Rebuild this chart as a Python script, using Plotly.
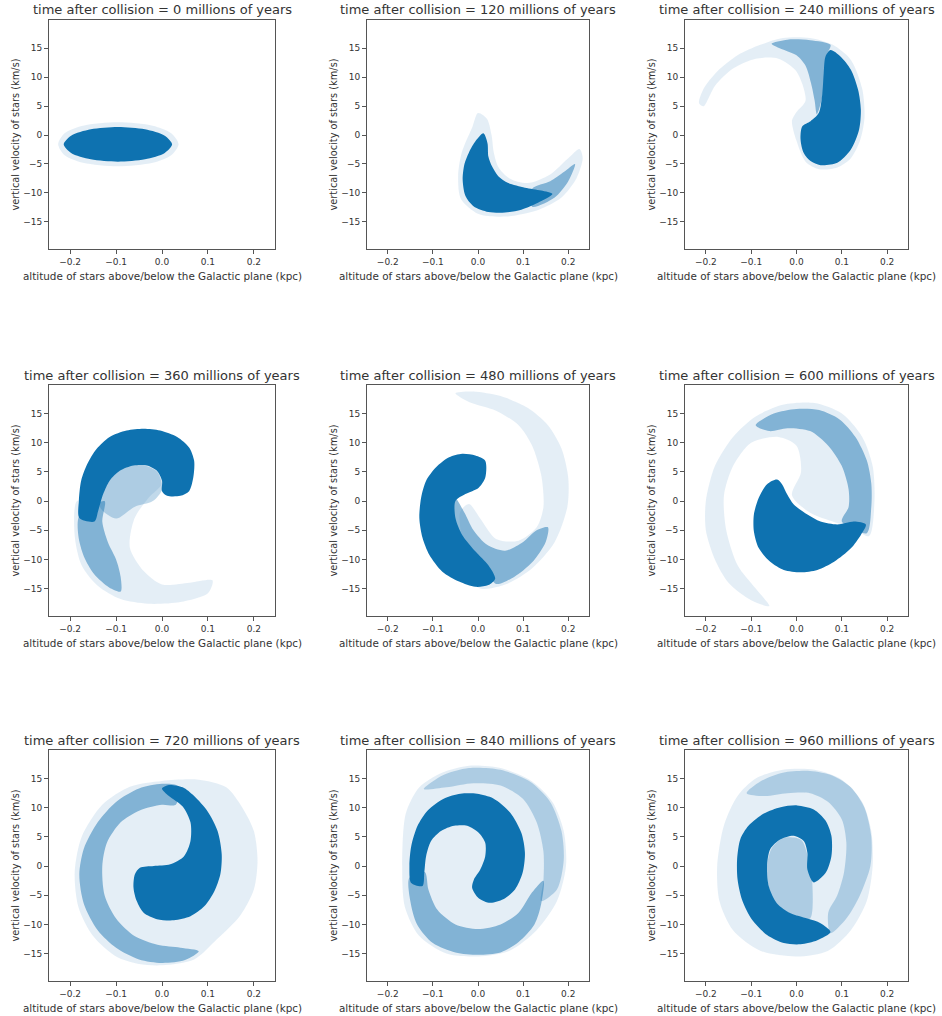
import plotly.graph_objects as go

# ---------------- data ----------------
times = [0, 120, 240, 360, 480, 600, 720, 840, 960]
x_ticks = [-0.2, -0.1, 0.0, 0.1, 0.2]
x_tick_labels = ["−0.2", "−0.1", "0.0", "0.1", "0.2"]
y_ticks = [-15, -10, -5, 0, 5, 10, 15]
y_tick_labels = ["−15", "−10", "−5", "0", "5", "10", "15"]
x_range = [-0.246, 0.246]
y_range = [-19.7, 19.9]

# outlines (altitude kpc, velocity km/s) of the star clouds, by density level
faint_000 = [(0.036,-1.6),(0.02,0.3),(-0.02,1.6),(-0.096,2.2),(-0.172,1.6),(-0.212,0.3),(-0.226,-1.6),
             (-0.212,-3.5),(-0.172,-4.8),(-0.096,-5.4),(-0.02,-4.8),(0.02,-3.5)]
dense_000 = [(0.022,-1.6),(0.006,-0.1),(-0.037,1.0),(-0.096,1.4),(-0.155,1.0),(-0.198,-0.1),(-0.214,-1.6),
             (-0.198,-3.1),(-0.155,-4.2),(-0.096,-4.6),(-0.037,-4.2),(0.006,-3.1)]

faint_120 = [(0.0,3.8),(0.02,2.8),(0.03,0.0),(0.035,-3.0),(0.045,-5.5),(0.07,-7.5),(0.11,-8.3),(0.16,-6.8),
             (0.2,-4.0),(0.225,-2.4),(0.232,-4.0),(0.218,-7.5),(0.185,-10.8),(0.135,-12.9),(0.06,-14.1),
             (0.0,-13.6),(-0.038,-11.0),(-0.044,-7.0),(-0.036,-3.0),(-0.012,1.5)]
medium_120 = [(0.12,-12.4),(0.17,-10.8),(0.2,-8.0),(0.215,-5.0),(0.19,-6.4),(0.16,-8.0),(0.12,-9.3)]
dense_120 = [(0.012,0.3),(-0.005,-1.0),(-0.02,-3.0),(-0.03,-5.0),(-0.034,-7.7),(-0.028,-10.5),(-0.01,-12.3),
             (0.023,-13.3),(0.06,-13.4),(0.096,-12.9),(0.133,-11.7),(0.165,-10.2),(0.14,-9.6),(0.104,-9.1),
             (0.067,-8.3),(0.045,-7.1),(0.031,-5.4),(0.023,-3.7),(0.021,-1.4)]

faint_240 = [(-0.215,5.5),(-0.205,8.0),(-0.175,11.0),(-0.13,13.8),(-0.08,15.6),(-0.03,16.8),(0.03,16.8),
             (0.08,15.6),(0.12,13.0),(0.145,8.0),(0.15,3.0),(0.14,-1.0),(0.12,-4.0),(0.09,-5.6),(0.05,-5.9),
             (0.02,-4.6),(0.0,-1.0),(-0.01,2.5),(0.0,4.0),(0.02,6.0),(0.0,11.0),(-0.04,13.2),(-0.09,13.2),
             (-0.14,11.5),(-0.18,8.5),(-0.205,5.0)]
medium_240 = [(0.075,15.6),(0.03,16.4),(-0.02,16.5),(-0.055,15.8),(-0.03,14.8),(0.0,13.8),(0.02,12.0),
              (0.032,9.0),(0.04,6.0),(0.045,3.6),(0.058,7.0),(0.062,11.0),(0.068,14.0)]
dense_240 = [(0.053,-5.2),(0.09,-4.8),(0.12,-2.5),(0.138,0.9),(0.142,4.4),(0.136,7.8),(0.12,11.3),
             (0.097,13.6),(0.075,14.7),(0.064,13.6),(0.06,10.7),(0.057,7.2),(0.049,3.8),(0.031,2.4),
             (0.0125,1.5),(0.009,-0.8),(0.016,-3.1),(0.031,-4.5)]

faint_360 = [(-0.185,0.0),(-0.19,-6.0),(-0.175,-11.0),(-0.14,-14.5),(-0.09,-16.8),(-0.03,-17.6),(0.04,-17.3),
             (0.1,-15.8),(0.11,-13.6),(0.06,-14.0),(0.0,-14.3),(-0.04,-12.0),(-0.07,-8.0),(-0.06,-3.0),
             (-0.03,0.5),(0.0,3.0),(-0.01,5.5),(-0.04,6.4),(-0.075,6.4),(-0.105,5.2),(-0.128,3.0),(-0.15,0.0)]
light_360 = [(-0.135,-1.0),(-0.12,3.0),(-0.09,5.5),(-0.05,6.3),(-0.01,5.0),(0.0,2.0),(-0.02,0.0),
             (-0.06,-1.0),(-0.1,-3.0)]
medium_360 = [(-0.18,-2.5),(-0.182,-6.0),(-0.17,-9.5),(-0.148,-12.5),(-0.115,-14.8),(-0.09,-15.5),
              (-0.09,-13.0),(-0.1,-10.0),(-0.118,-7.0),(-0.13,-3.5),(-0.125,0.0)]
dense_360 = [(-0.18,-2.9),(-0.181,0.0),(-0.176,3.5),(-0.163,6.3),(-0.143,8.9),(-0.114,11.0),(-0.077,12.1),
             (-0.04,12.4),(-0.004,12.1),(0.033,11.0),(0.059,9.2),(0.07,6.9),(0.068,4.0),(0.059,1.7),
             (0.04,0.9),(0.011,0.9),(0.0,1.7),(0.0,3.5),(-0.011,5.2),(-0.033,6.1),(-0.062,6.1),(-0.092,5.2),
             (-0.114,3.5),(-0.128,1.2),(-0.139,-1.7),(-0.147,-3.5)]

faint_480 = [(0.0,-14.8),(0.06,-14.3),(0.12,-11.5),(0.17,-7.0),(0.198,-1.0),(0.2,4.0),(0.185,9.0),
             (0.155,13.0),(0.11,16.0),(0.05,18.0),(-0.01,18.8),(-0.05,18.5),(-0.02,17.0),(0.04,15.5),
             (0.09,13.0),(0.12,9.5),(0.14,4.5),(0.145,-1.0),(0.13,-4.5),(0.09,-6.8),(0.04,-6.5),
             (0.005,-3.0),(-0.02,-0.5),(-0.04,-2.0)]
medium_480 = [(-0.05,0.5),(-0.03,-2.0),(-0.01,-5.0),(0.02,-7.5),(0.06,-8.5),(0.1,-7.0),(0.13,-5.0),
              (0.155,-4.5),(0.15,-7.0),(0.12,-10.5),(0.08,-13.0),(0.04,-14.2),(0.02,-12.0),(-0.02,-9.0),
              (-0.045,-6.0),(-0.055,-2.0)]
dense_480 = [(0.016,6.9),(-0.006,7.8),(-0.035,8.1),(-0.064,7.5),(-0.093,5.8),(-0.115,3.5),(-0.126,0.6),
             (-0.13,-2.9),(-0.123,-6.3),(-0.108,-9.2),(-0.079,-12.1),(-0.042,-13.8),(-0.006,-14.7),
             (0.023,-14.4),(0.038,-13.3),(0.023,-11.0),(-0.006,-8.6),(-0.035,-5.8),(-0.05,-2.9),(-0.05,0.0),
             (-0.028,1.2),(0.0015,2.3),(0.016,4.0)]

faint_600 = [(0.16,-6.0),(0.172,0.0),(0.168,6.0),(0.145,11.0),(0.1,15.0),(0.04,16.8),(-0.03,16.5),
             (-0.09,14.5),(-0.14,11.0),(-0.18,6.0),(-0.2,0.0),(-0.2,-5.0),(-0.18,-10.0),(-0.15,-14.0),
             (-0.1,-17.0),(-0.06,-18.0),(-0.09,-15.0),(-0.13,-11.0),(-0.155,-5.0),(-0.16,1.0),(-0.14,6.0),
             (-0.1,10.0),(-0.04,11.0),(0.0,9.5),(0.01,5.0),(-0.01,1.0),(0.03,-2.0),(0.08,-3.5),(0.12,-4.5)]
medium_600 = [(0.155,-5.5),(0.165,-1.0),(0.165,3.0),(0.155,7.0),(0.13,11.0),(0.095,14.0),(0.05,15.6),
              (0.0,15.8),(-0.05,15.0),(-0.09,13.0),(-0.06,12.0),(-0.02,12.5),(0.03,12.0),(0.07,9.5),
              (0.1,6.0),(0.115,2.0),(0.115,-1.0),(0.1,-3.5)]
dense_600 = [(-0.043,3.7),(-0.065,2.9),(-0.083,0.6),(-0.094,-2.3),(-0.094,-5.2),(-0.083,-8.1),(-0.058,-10.4),
             (-0.028,-11.8),(0.009,-12.2),(0.046,-11.8),(0.083,-10.4),(0.12,-8.1),(0.142,-5.8),(0.153,-4.0),
             (0.127,-3.5),(0.09,-4.0),(0.053,-3.5),(0.024,-2.3),(-0.006,-0.6),(-0.021,1.2),(-0.032,2.9)]

faint_720 = [(0.0,-17.0),(0.07,-16.0),(0.12,-12.5),(0.17,-8.5),(0.2,-4.0),(0.208,1.0),(0.2,6.0),
             (0.175,10.0),(0.14,13.5),(0.08,14.8),(0.0,14.6),(-0.07,13.6),(-0.13,10.5),(-0.175,5.0),
             (-0.19,-1.0),(-0.182,-7.0),(-0.15,-12.0),(-0.1,-15.5),(-0.05,-16.8)]
medium_720 = [(0.035,13.7),(0.0,14.1),(-0.05,13.3),(-0.1,11.0),(-0.14,7.5),(-0.17,3.0),(-0.18,-1.5),
              (-0.17,-6.5),(-0.14,-11.0),(-0.1,-14.0),(-0.05,-16.0),(0.0,-16.6),(0.05,-16.1),(0.08,-14.6),
              (0.04,-14.0),(-0.01,-13.5),(-0.06,-12.0),(-0.1,-9.0),(-0.125,-5.0),(-0.13,0.0),(-0.12,4.0),
              (-0.09,7.5),(-0.05,9.5),(0.0,10.5),(0.03,10.5)]
dense_720 = [(0.045,13.5),(0.07,12.0),(0.099,9.4),(0.121,6.0),(0.13,2.0),(0.127,-1.4),(0.114,-4.3),
             (0.092,-6.9),(0.062,-8.6),(0.026,-9.3),(-0.011,-9.1),(-0.04,-8.0),(-0.055,-6.0),(-0.062,-3.7),
             (-0.059,-1.4),(-0.048,-0.3),(-0.018,0.0),(0.018,0.3),(0.048,1.7),(0.062,4.3),(0.062,7.5),
             (0.045,10.2),(0.015,12.0),(0.0,13.3),(0.015,13.9)]

faint_840 = [(0.0,-15.5),(0.07,-14.5),(0.13,-11.0),(0.175,-6.0),(0.195,0.0),(0.19,6.0),(0.165,11.0),
             (0.12,14.5),(0.05,16.8),(-0.02,17.2),(-0.08,16.0),(-0.13,13.5),(-0.16,9.0),(-0.168,0.0),
             (-0.162,-7.0),(-0.13,-12.0),(-0.07,-15.0)]
light_840 = [(0.14,-6.0),(0.175,-4.0),(0.19,1.0),(0.185,6.0),(0.16,11.0),(0.115,14.5),(0.05,16.5),
             (-0.02,16.8),(-0.08,15.5),(-0.12,13.2),(-0.07,13.5),(-0.01,14.2),(0.05,13.8),(0.1,11.5),
             (0.13,7.5),(0.145,2.5),(0.145,-2.5)]
medium_840 = [(-0.152,-2.0),(-0.15,-6.0),(-0.135,-10.0),(-0.1,-13.2),(-0.05,-14.8),(0.0,-15.2),(0.05,-14.8),
              (0.09,-13.0),(0.125,-10.0),(0.14,-6.5),(0.145,-2.5),(0.12,-4.5),(0.09,-8.0),(0.05,-10.0),
              (0.0,-10.8),(-0.05,-10.0),(-0.09,-7.5),(-0.11,-4.0),(-0.118,-1.0)]
dense_840 = [(-0.148,-2.9),(-0.152,0.0),(-0.148,3.4),(-0.134,6.9),(-0.112,9.5),(-0.075,11.6),(-0.039,12.4),
             (-0.002,12.4),(0.034,11.6),(0.071,9.2),(0.096,5.7),(0.104,2.3),(0.099,-1.1),(0.082,-4.0),
             (0.056,-5.7),(0.027,-6.3),(0.0015,-5.5),(-0.013,-3.7),(-0.009,-2.3),(0.005,-0.6),(0.016,1.7),
             (0.016,4.0),(0.0015,5.7),(-0.024,6.9),(-0.053,6.9),(-0.082,6.0),(-0.104,4.3),(-0.115,1.7),
             (-0.119,-1.1),(-0.123,-3.4)]

faint_960 = [(0.0,-15.5),(0.07,-14.5),(0.12,-11.0),(0.155,-6.0),(0.168,0.0),(0.165,6.0),(0.145,11.0),
             (0.1,14.8),(0.04,16.5),(-0.03,16.5),(-0.09,15.0),(-0.13,12.0),(-0.16,7.0),(-0.175,0.0),
             (-0.17,-6.0),(-0.14,-11.0),(-0.08,-14.5)]
light_960 = [(0.075,-11.5),(0.11,-9.0),(0.14,-5.0),(0.163,0.0),(0.165,5.0),(0.15,10.0),(0.12,13.5),
             (0.08,15.5),(0.03,16.3),(-0.03,16.0),(-0.08,14.5),(-0.11,12.5),(-0.07,12.0),(-0.02,12.5),
             (0.03,12.5),(0.07,11.0),(0.1,8.0),(0.11,4.0),(0.105,-1.0),(0.09,-5.0),(0.07,-8.0)]
core_960 = [(-0.065,0.0),(-0.06,-4.0),(-0.04,-7.0),(0.0,-8.5),(0.03,-9.0),(0.035,-3.0),(0.027,1.0),
            (0.01,4.5),(-0.03,4.8),(-0.055,3.0)]
dense_960 = [(0.038,-2.8),(0.064,-1.2),(0.077,1.7),(0.077,5.2),(0.064,7.8),(0.038,9.7),(0.0015,10.4),
             (-0.035,10.1),(-0.072,9.0),(-0.106,6.9),(-0.124,4.6),(-0.131,1.2),(-0.13,-2.3),(-0.12,-5.8),
             (-0.098,-9.2),(-0.065,-11.8),(-0.028,-13.2),(0.009,-13.4),(0.046,-12.7),(0.075,-11.3),
             (0.053,-9.8),(0.024,-9.0),(-0.013,-8.1),(-0.043,-6.4),(-0.061,-3.5),(-0.065,0.0),(-0.058,2.9),
             (-0.035,4.6),(-0.006,5.2),(0.016,4.3),(0.024,2.3),(0.024,-0.6)]

panel_layers = [
    [("faint", faint_000), ("dense", dense_000)],
    [("faint", faint_120), ("medium", medium_120), ("dense", dense_120)],
    [("faint", faint_240), ("medium", medium_240), ("dense", dense_240)],
    [("faint", faint_360), ("light", light_360), ("medium", medium_360), ("dense", dense_360)],
    [("faint", faint_480), ("medium", medium_480), ("dense", dense_480)],
    [("faint", faint_600), ("medium", medium_600), ("dense", dense_600)],
    [("faint", faint_720), ("medium", medium_720), ("dense", dense_720)],
    [("faint", faint_840), ("light", light_840), ("medium", medium_840), ("dense", dense_840)],
    [("faint", faint_960), ("light", light_960), ("light", core_960), ("dense", dense_960)],
]

# ---------------- styling / layout ----------------
W, H = 942, 1016
cols_px = [(49, 275), (367, 589), (685, 908)]
rows_px = [(20, 249), (385, 616), (750, 981)]
level_color = {
    "faint": "rgba(31,119,180,0.12)",
    "light": "rgba(31,119,180,0.28)",
    "medium": "rgba(31,119,180,0.50)",
    "dense": "rgb(14,114,176)",
}
FONT = "DejaVu Sans"
TXT = "#333333"
AX = "#555555"

fig = go.Figure()
layout = dict(width=W, height=H, margin=dict(l=0, r=0, t=0, b=0),
              paper_bgcolor="white", plot_bgcolor="white", showlegend=False,
              font=dict(family=FONT, color=TXT))
annotations = []

for i, t in enumerate(times):
    r, c = divmod(i, 3)
    (x0, x1), (y0, y1) = cols_px[c], rows_px[r]
    sfx = "" if i == 0 else str(i + 1)
    xa, ya = "x" + sfx, "y" + sfx
    for level, pts in panel_layers[i]:
        xs = [p[0] for p in pts] + [pts[0][0]]
        ys = [p[1] for p in pts] + [pts[0][1]]
        fig.add_trace(go.Scatter(x=xs, y=ys, mode="lines", fill="toself",
                                 fillcolor=level_color[level],
                                 line=dict(width=0, shape="spline", smoothing=0.8),
                                 hoverinfo="skip", xaxis=xa, yaxis=ya))
    axis_common = dict(showline=True, mirror=True, linecolor=AX, linewidth=1,
                       ticks="outside", ticklen=4, tickcolor=AX, tickwidth=1,
                       showgrid=False, zeroline=False,
                       tickfont=dict(family=FONT, size=9, color=TXT))
    layout["xaxis" + sfx] = dict(axis_common, domain=[x0 / W, x1 / W], range=x_range,
                                 tickvals=x_ticks, ticktext=x_tick_labels, anchor=ya)
    layout["yaxis" + sfx] = dict(axis_common, domain=[1 - y1 / H, 1 - y0 / H], range=y_range,
                                 tickvals=y_ticks, ticktext=y_tick_labels, anchor=xa)
    cx = (x0 + x1) / 2
    annotations.append(dict(text=f"time after collision = {t} millions of years",
                            x=cx / W, y=1 - (y0 - 10) / H, xref="paper", yref="paper",
                            xanchor="center", yanchor="middle", showarrow=False,
                            font=dict(family=FONT, size=13, color=TXT)))
    annotations.append(dict(text="altitude of stars above/below the Galactic plane (kpc)",
                            x=cx / W, y=1 - (y1 + 27) / H, xref="paper", yref="paper",
                            xanchor="center", yanchor="middle", showarrow=False,
                            font=dict(family=FONT, size=10.4, color=TXT)))
    annotations.append(dict(text="vertical velocity of stars (km/s)",
                            x=(x0 - 34) / W, y=1 - ((y0 + y1) / 2) / H, xref="paper", yref="paper",
                            xanchor="center", yanchor="middle", showarrow=False, textangle=-90,
                            font=dict(family=FONT, size=9.8, color=TXT)))

layout["annotations"] = annotations
fig.update_layout(**layout)
fig.write_html("out.html", config={"displayModeBar": False},
               post_script="document.body.style.margin='0px';document.body.style.overflow='hidden';")
